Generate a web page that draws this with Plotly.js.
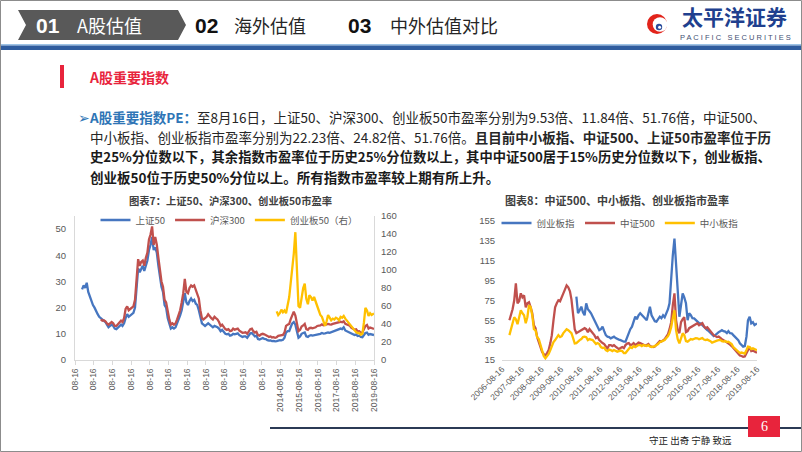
<!DOCTYPE html>
<html><head><meta charset="utf-8">
<script src="https://cdn.plot.ly/plotly-3.0.1.min.js"></script>
<style>html,body{margin:0;padding:0;background:#fff;}#chart{width:802px;height:452px;}</style>
</head><body><div id="chart"></div>
<script>
// ---------- shared monthly time axis ----------
const months = [
 '2004-01','2004-02','2004-03','2004-04','2004-05','2004-06','2004-07','2004-08','2004-09','2004-10','2004-11','2004-12',
 '2005-01','2005-02','2005-03','2005-04','2005-05','2005-06','2005-07','2005-08','2005-09','2005-10','2005-11','2005-12',
 '2006-01','2006-02','2006-03','2006-04','2006-05','2006-06','2006-07','2006-08','2006-09','2006-10','2006-11','2006-12',
 '2007-01','2007-02','2007-03','2007-04','2007-05','2007-06','2007-07','2007-08','2007-09','2007-10','2007-11','2007-12',
 '2008-01','2008-02','2008-03','2008-04','2008-05','2008-06','2008-07','2008-08','2008-09','2008-10','2008-11','2008-12',
 '2009-01','2009-02','2009-03','2009-04','2009-05','2009-06','2009-07','2009-08','2009-09','2009-10','2009-11','2009-12',
 '2010-01','2010-02','2010-03','2010-04','2010-05','2010-06','2010-07','2010-08','2010-09','2010-10','2010-11','2010-12',
 '2011-01','2011-02','2011-03','2011-04','2011-05','2011-06','2011-07','2011-08','2011-09','2011-10','2011-11','2011-12',
 '2012-01','2012-02','2012-03','2012-04','2012-05','2012-06','2012-07','2012-08','2012-09','2012-10','2012-11','2012-12',
 '2013-01','2013-02','2013-03','2013-04','2013-05','2013-06','2013-07','2013-08','2013-09','2013-10','2013-11','2013-12',
 '2014-01','2014-02','2014-03','2014-04','2014-05','2014-06','2014-07','2014-08','2014-09','2014-10','2014-11','2014-12',
 '2015-01','2015-02','2015-03','2015-04','2015-05','2015-06','2015-07','2015-08','2015-09','2015-10','2015-11','2015-12',
 '2016-01','2016-02','2016-03','2016-04','2016-05','2016-06','2016-07','2016-08','2016-09','2016-10','2016-11','2016-12',
 '2017-01','2017-02','2017-03','2017-04','2017-05','2017-06','2017-07','2017-08','2017-09','2017-10','2017-11','2017-12',
 '2018-01','2018-02','2018-03','2018-04','2018-05','2018-06','2018-07','2018-08','2018-09','2018-10','2018-11','2018-12',
 '2019-01','2019-02','2019-03','2019-04','2019-05','2019-06','2019-07','2019-08-16'
];

// ---------- 图表7 ----------
const chart7Names = ['上证50', '沪深300', '创业板50（右）'];
const sz50Start = '2004-01';
const sz50 = [
 27,28.5,27.5,29.5,26,24,22.5,21,20,18.5,17.5,16.5,
 16,15.5,15,14.5,13.5,12.5,13,13.5,13,12,11.8,12.5,
 13,13.5,13,14,16,17.5,16.5,17,17.5,18,20,27,
 35,33.5,35,36,34,36.5,38,42,44,47,42,43,
 41,36,32,28,26,21,20,16,14,12,12.5,12,
 12.5,14,15,17,19,22,25.5,22,21,22.5,23.5,22.5,
 23,21.5,21,19,16.5,14,13.5,13,13.5,14,13.5,13,
 12.5,13,12.8,12.5,12,11,11.5,10.5,10,9.8,10,9.3,
 9.5,10,9.8,10,10.2,9.5,9.2,8.8,9,9,8.5,9.5,
 10.2,10.3,9.5,9,9.3,8,7.8,8.2,8.4,8.1,8,7.6,
 7.4,7.5,7.2,7.3,7.1,7.2,7.5,7.6,7.5,7.7,8.5,10.5,
 11,11,12.5,14,14.5,13.5,11,8.5,9,10,10.3,10.5,
 9,8.8,9.3,9.5,9.3,9.4,9.6,9.8,9.9,10,10.3,10.1,
 10.2,10.4,10.5,10.4,10.6,10.8,11,11.2,11.3,11.8,12,11.8,
 12.5,11.3,11,10.7,10.6,10,9.8,9.5,9.7,9.2,9.3,8.8,
 8.7,9.5,10.3,10.5,9.6,9.9,9.8,9.53
];
const hs300Start = '2005-01';
const hs300 = [
 15.5,15,15.2,14.8,14,13.5,14,14.5,14,13,13,13.8,
 14.5,15,14.5,16,19.5,20.5,19,19.5,20,20.5,23,31,
 38.5,36,37.5,38,36,39,41,46,48,51,44,47,
 44,39,34,30,28,23,22,18,15.5,13.5,14,13.5,
 14,15.5,17,19,22,25.5,31,26,25.5,27.5,28.5,28,
 28.5,27,25,23.5,19,16,15.5,16,16.5,17.5,16.5,16,
 15.5,16.5,16,15.5,14.5,13,13.5,12.5,11.8,11.5,11.8,11,
 11.2,12,11.6,11.8,12,11.2,10.8,10.4,10.5,10.6,10,11,
 11.8,12,11,10.5,10.8,9.5,9.3,9.8,10,9.8,9.6,9.2,
 8.8,9,8.6,8.7,8.5,8.7,9.2,9.4,9.5,9.6,10.5,13,
 13.5,13.8,15.5,17.5,18.5,17,14,11,11.5,12.8,13.2,13.8,
 11.8,11.5,12.2,12.3,12.1,12.2,12.5,13,13,13.2,13.6,13.3,
 13.4,13.7,13.8,13.6,13.5,13.8,14,14.2,14.3,14.6,14.6,14.4,
 14.8,13.8,13.6,13.2,13.1,12.3,12,11.6,11.7,10.9,11,10.4,
 10.5,11.8,13,13.4,12,12.4,12.2,11.84
];
const cyb50Start = '2014-06';
const cyb50 = [
 54,50,52,56,53,55,52,
 62,70,85,100,118,142,90,60,58,72,80,85,
 68,62,72,70,66,70,66,60,55,50,48,42,
 38,43,50,47,44,46,45,47,46,44,48,47,
 49,46,44,42,40,37,35,33,31,30,30,28,
 29,42,58,55,49,52,50,51.76
];
const chart7TickVals = ['2003-08-16','2004-08-16','2005-08-16','2006-08-16','2007-08-16','2008-08-16','2009-08-16','2010-08-16','2011-08-16','2012-08-16','2013-08-16','2014-08-16','2015-08-16','2016-08-16','2017-08-16','2018-08-16','2019-08-16'];
const chart7TickText = ['08-16','08-16','08-16','08-16','08-16','08-16','08-16','08-16','08-16','08-16','08-16','2014-08-16','2015-08-16','2016-08-16','2017-08-16','2018-08-16','2019-08-16'];

// ---------- 图表8 ----------
const chart8Names = ['创业板指', '中证500', '中小板指'];
const cybStart = '2010-06';
const cyb = [
 78.6,62,65,68.6,63,60,72,
 66,64,62,58.5,55,51.8,48,45,46,48.5,44,40,
 38.4,38,36.8,37.5,38.4,37,36,35.5,35,34,33.4,33.5,
 38.4,42,46,48.5,54,58.5,56,60,62,60,58,56,
 55,62,68.6,60,56.8,54,53.5,56,58.5,57,60,58,
 62,66,72,102,120,137,109,75,58.5,70,82,78,
 72,55,62,60,57,56.8,55,53.5,52,51.8,50,48.5,
 46,45,44,42,40,39,40,41.8,43,44,45,44,
 43.5,42,44,42,41.8,40,38.4,37,35,31.7,30,28.4,
 29,38.4,55,58.5,51.8,53,50,51.76
];
const zz500Start = '2007-01';
const zz500 = [
 55,60,66,75,92,72,74,82,78,80,68,72,
 73,68,62,50,47,38,33,27,23,21,19.5,22,
 25,32,40,55,68,72,75,74,79,82,86,90,
 88,84,76,62,46,42,43,44,45,46,47,46,
 43,46,44,43,40,37,38,35,33,32,31,28,
 26.5,30,30,29,30,28.5,27,26,27,28,27,30,
 31.5,32,30,30.5,32,30,31,32.5,32,31,30.5,29.5,
 30,31,29,28.5,28,28.5,30,32,34,33.5,35,36,
 38.5,41,46,53,70,82,55,45,42,53,56,58,
 43,44,47,48,49,50,51,52,50,51,52,49,
 47,48,46,44,41,40,39,38,38.5,37,36,35,
 34,33,32,30.5,29,27,25,23,22,19.5,19,18.3,
 18.5,22,26,28,24,24.5,23.5,22.23
];
const zxbStart = '2007-01';
const zxb = [
 40,48,52,58,56,51,58,65,62,60,52,58,
 70,68,60,46,45,38,36,30,26,19,16.7,19,
 21,25,29,33,35,37,40,38,39,42,44,46,
 45,43,42,37,31.7,32,34,35,36,38,38.5,38,
 35,36,35.5,35,33,31,32,31,28,27,27.5,25,
 24,25.5,25,24,25,24,23.4,24,24.5,24,22,22,
 24.5,27,28,27,29,28,29,30,30,29,30,29.5,
 29,30,28.5,28,28.4,29,30,31,33,33.5,34,35,
 37,39,42,48,57,65,45,36,31.7,38,41.8,40,
 34,33.4,35,36,35.5,36.5,37,36.8,35.8,36.5,37,35.5,
 35,35.5,35,34,32.5,33.4,34,34.5,35,35.2,34,33.5,
 34,33,33.4,32,31,28,26.7,25,24,22,22.5,21.7,
 21.5,25,28.4,28,26,26.7,26,24.82
];
const chart8TickVals = ['2006-08-16','2007-08-16','2008-08-16','2009-08-16','2010-08-16','2011-08-16','2012-08-16','2013-08-16','2014-08-16','2015-08-16','2016-08-16','2017-08-16','2018-08-16','2019-08-16'];
const chart8TickText = chart8TickVals.slice();

// ---------- helpers ----------
const W = 802, H = 452;
const X = p => p / W;
const Y = p => 1 - p / H;
function xs(start, vals) {
  const i = months.indexOf(start);
  return months.slice(i, i + vals.length);
}
const BLUE = '#4676C0', RED = '#C0504D', YELLOW = '#FFC000';
const CJK = 'Noto Sans CJK SC, sans-serif';
const NUM = 'Liberation Sans, Noto Sans CJK SC, sans-serif';

const lineTrace = (name, start, vals, color, xa, ya, lg) => ({
  type: 'scatter', mode: 'lines', name: name,
  x: xs(start, vals), y: vals, xaxis: xa, yaxis: ya, legend: lg,
  line: {color: color, width: 2.3}, hoverinfo: 'skip'
});

const data = [
  lineTrace(chart7Names[0], sz50Start, sz50, BLUE, 'x', 'y', 'legend'),
  lineTrace(chart7Names[1], hs300Start, hs300, RED, 'x', 'y', 'legend'),
  lineTrace(chart7Names[2], cyb50Start, cyb50, YELLOW, 'x', 'y2', 'legend'),
  lineTrace(chart8Names[0], cybStart, cyb, BLUE, 'x2', 'y3', 'legend2'),
  lineTrace(chart8Names[1], zz500Start, zz500, RED, 'x2', 'y3', 'legend2'),
  lineTrace(chart8Names[2], zxbStart, zxb, YELLOW, 'x2', 'y3', 'legend2')
];

const tickFont = {family: NUM, size: 9.5, color: '#595959'};
const dateTickFont = {family: NUM, size: 8.5, color: '#595959'};

function ann(x, y, text, size, color, opts) {
  return Object.assign({
    xref: 'paper', yref: 'paper', x: X(x), y: Y(y), text: text, showarrow: false,
    xanchor: 'center', yanchor: 'middle',
    font: {family: CJK, size: size, color: color}
  }, opts || {});
}
function rect(x0, y0, x1, y1, fill, line) {
  return {type: 'rect', xref: 'paper', yref: 'paper', x0: X(x0), x1: X(x1), y0: Y(y0), y1: Y(y1),
    fillcolor: fill, line: line || {width: 0}, layer: 'above'};
}
function poly(pts, fill) {
  let d = pts.map((p, i) => (i ? 'L' : 'M') + X(p[0]) + ',' + Y(p[1])).join(' ') + ' Z';
  return {type: 'path', xref: 'paper', yref: 'paper', path: d, fillcolor: fill, line: {width: 0}, layer: 'above'};
}
function circ(cx, cy, r, fill) {
  return {type: 'circle', xref: 'paper', yref: 'paper', x0: X(cx - r), x1: X(cx + r), y0: Y(cy + r), y1: Y(cy - r),
    fillcolor: fill, line: {width: 0}, layer: 'above'};
}

const shapes = [
  rect(0.5, 0.5, 801.5, 451.5, 'rgba(0,0,0,0)', {color: '#8c8c8c', width: 1}),
  rect(1, 44, 801, 45.5, '#9DC3E6'),
  rect(1, 45.5, 801, 50, '#2F5C9E'),
  poly([[18,10],[178,10],[186,25],[178,40],[18,40],[26,25]], '#595959'),
  rect(60, 65, 64, 88, '#E8243C'),
  {type: 'line', xref: 'paper', yref: 'paper', x0: X(270), x1: X(801), y0: Y(428), y1: Y(428), line: {color: '#2B3A55', width: 2}},
  rect(748, 416, 780, 437, '#E8243C'),
  circ(657, 24, 10, '#E2231A'),
  circ(660, 24.5, 7.3, '#ffffff'),
  circ(659, 27, 3.2, '#2B4C9B'),
  circ(659.6, 27.3, 1.5, '#ffffff')
];

const pFont = 13.5;
const annotations = [
  // header
  ann(48, 25, '<b>01</b>', 20, '#ffffff', {font: {family: 'Liberation Sans Narrow, Liberation Sans, sans-serif', size: 21, color: '#ffffff'}}),
  ann(109, 25, 'A股估值', 18, '#ffffff'),
  ann(206, 25, '<b>02</b>', 20, '#111111', {font: {family: 'Liberation Sans Narrow, Liberation Sans, sans-serif', size: 21, color: '#111111'}}),
  ann(270, 25, '海外估值', 18, '#262626'),
  ann(359, 25, '<b>03</b>', 20, '#111111', {font: {family: 'Liberation Sans Narrow, Liberation Sans, sans-serif', size: 21, color: '#111111'}}),
  ann(444, 25, '中外估值对比', 18, '#262626'),
  ann(734, 16, '<b>太平洋证券</b>', 21, '#203F8E'),
  ann(735, 37.5, 'P A C I F I C   S E C U R I T I E S', 7, '#3F4F73', {font: {family: 'Liberation Sans, sans-serif', size: 7.5, color: '#3F4F73'}}),
  // section heading
  ann(87, 77, '<b>A股重要指数</b>', 14, '#E8243C', {xanchor: 'left'}),
  // paragraph
  ann(76, 117, '<span style="color:#2E75B6">➢</span><b><span style="color:#2E75B6">A股重要指数PE：</span></b>至8月16日，上证50、沪深300、创业板50市盈率分别为9.53倍、11.84倍、51.76倍，中证500、', pFont, '#262626', {xanchor: 'left'}),
  ann(88, 137, '中小板指、创业板指市盈率分别为22.23倍、24.82倍、51.76倍。<b>且目前中小板指、中证500、上证50市盈率位于历</b>', pFont, '#262626', {xanchor: 'left'}),
  ann(88, 157, '<b>史25%分位数以下，其余指数市盈率位于历史25%分位数以上，其中中证500居于15%历史分位数以下，创业板指、</b>', 13.3, '#1a1a1a', {xanchor: 'left'}),
  ann(88, 177, '<b>创业板50位于历史50%分位以上。所有指数市盈率较上期有所上升。</b>', pFont, '#1a1a1a', {xanchor: 'left'}),
  // chart titles
  ann(230, 200, '<b>图表7：上证50、沪深300、创业板50市盈率</b>', 10.3, '#404040'),
  ann(617, 200, '<b>图表8：中证500、中小板指、创业板指市盈率</b>', 11, '#404040'),
  // footer
  ann(764, 426.5, '6', 14, '#ffffff', {font: {family: 'Liberation Serif, serif', size: 14, color: '#ffffff'}}),
  ann(690, 440, '守正 出奇 宁静 致远', 9.5, '#222222')
];

const layout = {
  width: W, height: H,
  margin: {l: 0, r: 0, t: 0, b: 0},
  paper_bgcolor: '#ffffff', plot_bgcolor: 'rgba(0,0,0,0)',
  showlegend: true,
  legend: {orientation: 'h', x: X(229), xanchor: 'center', y: Y(220), yanchor: 'middle',
    font: {family: CJK, size: 9.5, color: '#595959'}, bgcolor: 'rgba(0,0,0,0)', itemwidth: 30, tracegroupgap: 0},
  legend2: {orientation: 'h', x: X(620), xanchor: 'center', y: Y(223), yanchor: 'middle',
    font: {family: CJK, size: 9.5, color: '#595959'}, bgcolor: 'rgba(0,0,0,0)', itemwidth: 30},
  xaxis: {domain: [X(75), X(374)], anchor: 'y', type: 'date',
    range: ['2003-08-16', '2019-08-16'], tickmode: 'array', tickvals: chart7TickVals, ticktext: chart7TickText,
    tickangle: -90, tickfont: dateTickFont, showgrid: false, zeroline: false,
    showline: true, linecolor: '#d9d9d9', linewidth: 1, ticks: 'outside', ticklen: 4, tickcolor: '#d9d9d9'},
  yaxis: {domain: [Y(360), Y(216)], anchor: 'x', range: [0, 55], tickmode: 'array', tickvals: [0,10,20,30,40,50],
    tickfont: tickFont, showgrid: false, zeroline: false, showline: true, linecolor: '#d9d9d9', ticklabelstandoff: 6},
  yaxis2: {overlaying: 'y', side: 'right', anchor: 'x', range: [0, 160], tickmode: 'array',
    tickvals: [0,20,40,60,80,100,120,140,160], tickfont: tickFont, showgrid: false, zeroline: false,
    showline: true, linecolor: '#d9d9d9', ticklabelstandoff: 4},
  xaxis2: {domain: [X(502), X(757)], anchor: 'y3', type: 'date',
    range: ['2006-08-16', '2019-08-16'], tickmode: 'array', tickvals: chart8TickVals, ticktext: chart8TickText,
    tickangle: -45, tickfont: dateTickFont, showgrid: false, zeroline: false,
    showline: true, linecolor: '#d9d9d9', linewidth: 1, ticks: '', ticklen: 3},
  yaxis3: {domain: [Y(360), Y(220.7)], anchor: 'x2', range: [15, 155], tickmode: 'array',
    tickvals: [15,35,55,75,95,115,135,155], tickfont: tickFont, showgrid: false, zeroline: false,
    showline: false, ticklabelstandoff: 6},
  shapes: shapes,
  annotations: annotations
};

Plotly.newPlot('chart', data, layout, {displayModeBar: false, staticPlot: true});
</script>
</body></html>
